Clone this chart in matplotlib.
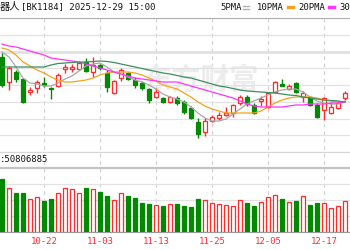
import numpy as np
import matplotlib
matplotlib.use("Agg")
import matplotlib.pyplot as plt
from matplotlib.lines import Line2D

# -----------------------------
# Data
# -----------------------------

dates = [
    "10-14", "10-15", "10-16", "10-17", "10-20", "10-21", "10-22", "10-23",
    "10-24", "10-27", "10-28", "10-29", "10-30", "10-31", "11-03", "11-04",
    "11-05", "11-06", "11-07", "11-10", "11-11", "11-12", "11-13", "11-14",
    "11-17", "11-18", "11-19", "11-20", "11-21", "11-24", "11-25", "11-26",
    "11-27", "11-28", "12-01", "12-02", "12-03", "12-04", "12-05", "12-08",
    "12-09", "12-10", "12-11", "12-12", "12-15", "12-16", "12-17", "12-18",
    "12-19", "12-22",
]

tick_labels = ["10-22", "11-03", "11-13", "11-25", "12-05", "12-17"]

opens = [1443, 1418, 1428, 1421, 1408, 1412, 1417, 1412, 1414, 1431,
         1431, 1431, 1438, 1428, 1435, 1427, 1407, 1422, 1427, 1420,
         1417, 1411, 1403, 1402, 1398, 1402, 1398, 1392, 1378, 1368,
         1379, 1382, 1385, 1387, 1397, 1403, 1395, 1399, 1393, 1408,
         1416, 1411, 1417, 1403, 1403, 1395, 1390, 1387, 1392, 1402]

closes = [1415, 1432, 1421, 1398, 1410, 1418, 1415.5, 1411, 1425, 1433,
          1433, 1437, 1429, 1435, 1432, 1413, 1419, 1430, 1421, 1415,
          1412, 1400, 1408, 1398, 1403, 1397, 1388, 1382, 1366, 1379,
          1383, 1385, 1387, 1395, 1403, 1396, 1387, 1401, 1407, 1418,
          1414, 1414, 1408, 1407, 1395, 1383, 1402, 1393, 1397, 1407]

highs = [1447, 1434, 1430, 1422, 1413, 1420, 1423, 1413, 1427, 1436,
         1436, 1438, 1442, 1443, 1436, 1430, 1420, 1432, 1428, 1423,
         1419, 1412, 1412, 1403, 1404, 1404, 1400, 1394, 1382, 1382,
         1385, 1388, 1393, 1396, 1405, 1405, 1397, 1404, 1408, 1419,
         1421, 1416, 1418, 1409, 1404, 1397, 1403, 1398, 1399, 1409]

lows = [1413, 1410, 1418, 1397, 1405, 1407, 1413, 1401, 1413, 1427,
        1428, 1430, 1428, 1423, 1430, 1408, 1406, 1419, 1420, 1412,
        1410, 1397, 1402, 1397, 1397, 1395, 1386, 1381, 1362, 1364,
        1378, 1380, 1384, 1383, 1395, 1394, 1386, 1394, 1392, 1407,
        1414, 1410, 1407, 1398, 1394, 1382, 1380, 1386, 1391, 1400]

ma5 = [1448, 1443, 1433, 1422, 1417, 1416, 1414, 1414, 1417, 1421,
       1424, 1429, 1434, 1436, 1437, 1433, 1428, 1426, 1423, 1420,
       1418, 1415, 1411, 1406, 1403, 1401, 1398, 1393, 1387, 1382,
       1379, 1379, 1381, 1386, 1391, 1396, 1399, 1402, 1405, 1408,
       1410, 1411, 1411, 1408, 1403, 1399, 1397, 1396, 1396, 1399]

ma10 = [1452, 1450, 1445, 1438, 1434, 1430, 1427, 1423, 1420, 1418,
        1418, 1419, 1420, 1422, 1425, 1427, 1428, 1428, 1428, 1427,
        1425, 1422, 1419, 1415, 1413, 1411, 1407, 1403, 1398, 1394,
        1391, 1389, 1387, 1387, 1387, 1387, 1387, 1389, 1393, 1397,
        1400, 1402, 1403, 1403, 1403, 1402, 1400, 1399, 1398, 1398]

ma20 = [1456, 1454, 1453, 1451, 1449, 1447, 1445, 1442, 1441, 1440,
        1439, 1438, 1436, 1434, 1432, 1430, 1428, 1426, 1424, 1422,
        1421, 1420, 1419, 1418, 1418, 1418, 1416, 1414, 1412, 1410,
        1408, 1406, 1404, 1402, 1399, 1396, 1394, 1393, 1393, 1393,
        1393, 1394, 1395, 1395, 1396, 1396, 1396, 1397, 1397, 1398]

ma30 = [1433, 1433, 1433, 1433, 1433, 1433, 1433, 1435, 1436.5, 1437,
        1437.5, 1438, 1438, 1438.5, 1439, 1438.5, 1437.5, 1436, 1434.5, 1433,
        1431.5, 1430, 1428.5, 1427, 1426, 1424.5, 1423, 1422, 1420, 1418,
        1416, 1414, 1413, 1411.5, 1410, 1409, 1408.5, 1408, 1407.5, 1407,
        1406, 1405, 1404.5, 1403, 1402, 1401, 1400, 1399.5, 1399, 1398]

# volume in millions
volumes = [53, 44, 39, 39, 33, 35, 31, 33, 39, 44,
           43, 39, 44, 43, 40, 36, 32, 39, 36, 34,
           29, 28, 27, 26, 28, 28, 26, 25, 33, 32,
           29, 28, 27, 26, 32, 29, 26, 30, 35, 37,
           33, 30, 31, 36, 27, 29, 29, 24, 26, 31]

# -----------------------------
# Setup
# -----------------------------

RED = "#ff2b2b"
GREEN = "#008a00"
MONO = ["DejaVu Sans Mono", "Noto Sans CJK SC"]

W, H = 350, 250


def fy(px):
    return 1 - px / H


x = np.arange(len(dates))
o = np.array(opens, dtype=float)
c = np.array(closes, dtype=float)
up = c >= o
xlim = (-2 / 7, 348 / 7)
tick_pos = [dates.index(t) for t in tick_labels]

fig = plt.figure(figsize=(3.5, 2.5), dpi=100)
fig.patch.set_facecolor("white")

# -----------------------------
# Background: dashed verticals + watermark
# -----------------------------

bg = fig.add_axes([0, fy(232), 1, (232 - 18) / H])
bg.set_xlim(xlim)
bg.set_ylim(0, 1)
bg.axis("off")
bg.vlines(tick_pos, 0, 1, colors="#d4d4d4", linestyles=(0, (3, 3)), lw=0.9)
bg.text(200 / W, fy(80), "东方财富", transform=fig.transFigure,
        fontsize=21, fontweight="bold", color="#ececec",
        family="Noto Sans CJK SC", ha="center", va="center")

# -----------------------------
# Price panel
# -----------------------------

ax = fig.add_axes([0, fy(152), 1, 134 / H])
ax.set_facecolor("none")
ax.set_xlim(xlim)
ax.set_ylim(1348, 1482)
ax.set_yticks(np.linspace(1348, 1482, 9))
ax.grid(axis="y", color="#e2e2e2", lw=0.9)
ax.set_xticks([])
ax.tick_params(length=0, labelleft=False)
for s in ["left", "right"]:
    ax.spines[s].set_visible(False)
ax.spines["top"].set_color("#b0b0b0")
ax.spines["bottom"].set_color("#d6d6d6")
ax.axhline(1448.5, color="#dcdcdc", lw=1.8, zorder=1)

colors = [RED if u else GREEN for u in up]
ax.vlines(x, lows, highs, colors=colors, lw=1, zorder=2)
body_h = np.maximum(np.abs(c - o), 0.7)
ax.bar(x, body_h, bottom=np.minimum(o, c), width=0.64,
       facecolor=["white" if u else GREEN for u in up],
       edgecolor=colors, lw=0.9, zorder=3)

ax.plot(x, ma5, color="#a8a8a8", lw=0.9, zorder=4)
ax.plot(x, ma10, color="#f5a31a", lw=0.9, zorder=4)
ax.plot(x, ma20, color="#ff33ff", lw=0.9, zorder=4)
ax.plot(x, ma30, color="#3b8f5e", lw=0.9, zorder=4)

# -----------------------------
# Volume panel
# -----------------------------

vax = fig.add_axes([0, fy(232), 1, 64 / H])
vax.set_facecolor("none")
vax.set_xlim(xlim)
vax.set_ylim(0, 64)
vax.set_yticks([16, 32, 48])
vax.grid(axis="y", color="#e2e2e2", lw=0.9)
for s in ["left", "right"]:
    vax.spines[s].set_visible(False)
vax.spines["top"].set_color("#c4c4c4")
vax.spines["top"].set_linewidth(1.6)
vax.spines["bottom"].set_color("#9a9a9a")

vax.bar(x, volumes, width=0.64,
        facecolor=["white" if u else GREEN for u in up],
        edgecolor=colors, lw=0.9, zorder=3)

vax.set_xticks(tick_pos)
vax.set_xticklabels(tick_labels, color=RED, fontsize=6.5, family=MONO)
vax.tick_params(axis="x", length=0, pad=3.5)
vax.tick_params(axis="y", length=0, labelleft=False)

# -----------------------------
# Header texts
# -----------------------------

fig.text(20 / W, fy(7), "器人", family="Noto Sans CJK SC", fontsize=7.4,
         ha="right", va="center", color="#111111")
fig.text(21 / W, fy(7), "[BK1184] 2025-12-29 15:00", family=MONO,
         fontsize=6.4, ha="left", va="center", color="#111111")

legend_items = [
    ("5PMA", 220, "#b0b0b0", 243, 249),
    ("10PMA", 257, "#f5a31a", 288, 293),
    ("20PMA", 298, "#ff33ff", 329, 334),
]
for label, tx, col, s0, s1 in legend_items:
    fig.text(tx / W, fy(7), label, family=MONO, fontsize=6.4,
             ha="left", va="center", color="#111111")
    if label == "5PMA":
        for yy in (5.5, 8.5):
            fig.add_artist(Line2D([s0 / W, s1 / W], [fy(yy), fy(yy)],
                                  color=col, lw=1))
    else:
        fig.add_artist(Line2D([s0 / W, s1 / W], [fy(7), fy(7)],
                              color=col, lw=2.5))

# the 30-day legend entry is clipped by the right edge in the source
fig.text(339 / W, fy(7), "30", family=MONO, fontsize=6.4,
         ha="left", va="center", color="#111111")

fig.text(0, fy(160), ":50806885", family=MONO, fontsize=6.4,
         ha="left", va="center", color="#111111")

fig.savefig("out.png", dpi=100)
